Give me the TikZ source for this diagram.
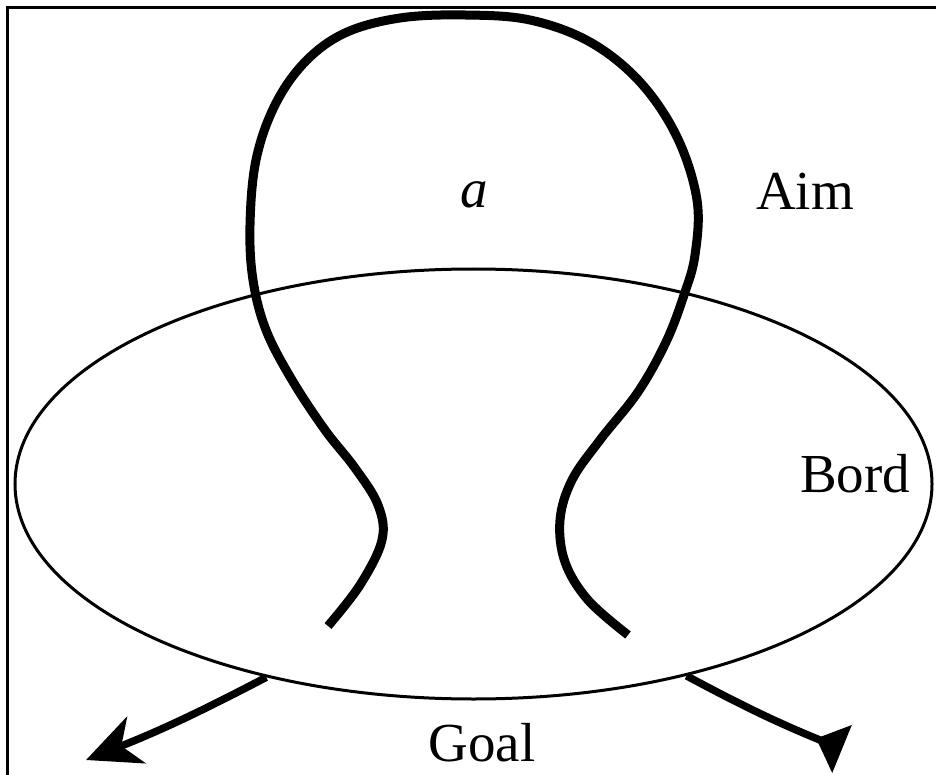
\documentclass[tikz,border=0pt]{standalone}
\usepackage{fontspec}
\setmainfont{Liberation Serif}
\usetikzlibrary{shapes.geometric,arrows.meta}
\tikzset{
  loopline/.style={line width=9pt, line cap=butt, line join=round},
  rimline/.style={line width=3pt},
  arrowline/.style={line width=7.5pt},
  lbl/.style={font=\fontsize{55}{60}\selectfont, inner sep=0pt, anchor=base},
}
\begin{document}
\begin{tikzpicture}[x=1pt,y=-1pt]
\useasboundingbox (0,0) rectangle (936,775);
% frame
\draw[line width=3.5pt] (7.5,775) -- (7.5,7.5) -- (936,7.5);
% ellipse (Bord)
\node[draw, rimline, ellipse, minimum width=917pt, minimum height=430pt, inner sep=0pt] (bord) at (473.5,484) {};
% loop
\draw[loopline] plot[smooth, tension=0.6] coordinates {
 (328,626) (360,585) (382,540) (378,505) (355,468) (325,430) (292,380) (266,330)
 (253,280) (250,225) (256,160) (275,105) (305,62) (345,33) (400,18) (465,15)
 (530,20) (590,42) (640,82) (677,137) (697,200) (695,255) (684,295) (666,342)
 (638,392) (600,440) (572,480) (560,520) (565,562) (588,600) (628,635)};
% arrows
\coordinate (lend) at (86,760);
\coordinate (rend) at (842,749);
\draw[arrowline, -{Stealth[length=54pt,width=50pt,inset=16pt]}] (bord.223) to[bend left=3] (lend);
\draw[arrowline, -{Triangle[reversed,length=28pt,width=50pt]}] (bord.318) to[bend right=3] (rend);
% labels
\node[lbl] (a) at (474,208) {\itshape a};
\node[lbl] (aim) at (805,210) {Aim};
\node[lbl] (bordlbl) at (855,492) {Bord};
\node[lbl] (goal) at (482,761) {Goal};
\end{tikzpicture}
\end{document}
